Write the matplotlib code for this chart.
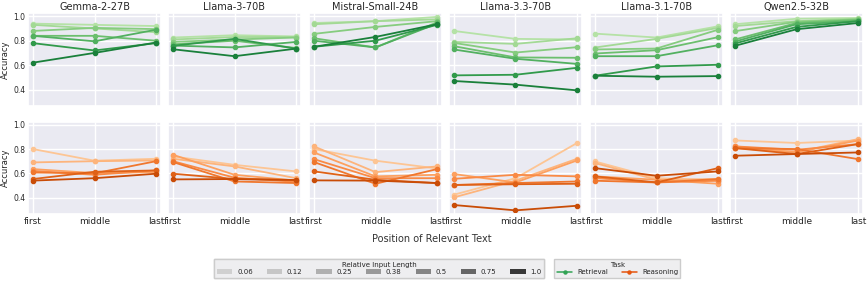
import matplotlib
matplotlib.use("Agg")
import matplotlib.pyplot as plt
import seaborn as sns
import numpy as np
from matplotlib.lines import Line2D
from matplotlib.patches import Patch

sns.set_theme(style="darkgrid")
plt.rcParams['font.family'] = ['DejaVu Sans']

models = ["Gemma-2-27B", "Llama-3-70B", "Mistral-Small-24B", "Llama-3.3-70B", "Llama-3.1-70B", "Qwen2.5-32B"]
positions = ["first", "middle", "last"]
lengths = ["0.06", "0.12", "0.25", "0.38", "0.5", "0.75", "1.0"]

# Retrieval accuracy: model -> list over lengths of [first, middle, last]
retrieval = {
    "Gemma-2-27B": [[0.94, 0.93, 0.92], [0.93, 0.90, 0.87], [0.88, 0.905, 0.895], [0.84, 0.84, 0.80],
                    [0.84, 0.795, 0.89], [0.78, 0.72, 0.78], [0.62, 0.70, 0.785]],
    "Llama-3-70B": [[0.826, 0.845, 0.835], [0.81, 0.83, 0.83], [0.79, 0.81, 0.826], [0.77, 0.80, 0.74],
                    [0.76, 0.745, 0.79], [0.758, 0.815, 0.735], [0.73, 0.673, 0.735]],
    "Mistral-Small-24B": [[0.945, 0.96, 0.995], [0.935, 0.96, 0.975], [0.856, 0.913, 0.96], [0.82, 0.745, 0.95],
                          [0.80, 0.745, 0.94], [0.75, 0.80, 0.93], [0.75, 0.831, 0.935]],
    "Llama-3.3-70B": [[0.88, 0.815, 0.81], [0.79, 0.774, 0.82], [0.782, 0.703, 0.747], [0.755, 0.663, 0.66],
                      [0.728, 0.652, 0.61], [0.516, 0.521, 0.578], [0.47, 0.44, 0.393]],
    "Llama-3.1-70B": [[0.858, 0.826, 0.918], [0.744, 0.815, 0.905], [0.728, 0.736, 0.89], [0.695, 0.722, 0.829],
                      [0.673, 0.673, 0.763], [0.513, 0.589, 0.603], [0.513, 0.505, 0.51]],
    "Qwen2.5-32B": [[0.935, 0.98, 0.986], [0.92, 0.96, 0.98], [0.878, 0.955, 0.975], [0.81, 0.945, 0.97],
                    [0.793, 0.935, 0.96], [0.777, 0.913, 0.96], [0.758, 0.894, 0.945]],
}

reasoning = {
    "Gemma-2-27B": [[0.80, 0.704, 0.72], [0.69, 0.70, 0.706], [0.635, 0.602, 0.61], [0.62, 0.588, 0.624],
                    [0.607, 0.60, 0.70], [0.553, 0.613, 0.624], [0.54, 0.56, 0.597]],
    "Llama-3-70B": [[0.739, 0.67, 0.616], [0.72, 0.657, 0.56], [0.753, 0.588, 0.54], [0.70, 0.564, 0.53],
                    [0.693, 0.533, 0.52], [0.597, 0.553, 0.545], [0.55, 0.553, 0.545]],
    "Mistral-Small-24B": [[0.80, 0.704, 0.64], [0.822, 0.61, 0.657], [0.772, 0.575, 0.588], [0.717, 0.56, 0.56],
                          [0.693, 0.514, 0.635], [0.616, 0.547, 0.52], [0.542, 0.54, 0.52]],
    "Llama-3.3-70B": [[0.424, 0.56, 0.85], [0.402, 0.54, 0.72], [0.594, 0.525, 0.706], [0.555, 0.588, 0.575],
                      [0.504, 0.52, 0.533], [0.504, 0.51, 0.514], [0.339, 0.295, 0.333]],
    "Llama-3.1-70B": [[0.698, 0.561, 0.539], [0.685, 0.547, 0.553], [0.575, 0.547, 0.514], [0.561, 0.525, 0.539],
                      [0.539, 0.525, 0.553], [0.575, 0.525, 0.643], [0.643, 0.58, 0.616]],
    "Qwen2.5-32B": [[0.871, 0.85, 0.87], [0.822, 0.775, 0.882], [0.808, 0.775, 0.87], [0.822, 0.794, 0.841],
                    [0.808, 0.80, 0.717], [0.808, 0.759, 0.841], [0.745, 0.759, 0.772]],
}

greens = ["#b5e2a6", "#a3d995", "#86cc7f", "#6cbf6e", "#52b060", "#319a4b", "#1a803b"]
oranges = ["#fdc594", "#fdb47c", "#fda05f", "#f98a45", "#f0772e", "#df6117", "#c94c07"]
legend_grays = ["#d0d0d0", "#c6c6c6", "#b0b0b0", "#999999", "#858585", "#666666", "#383838"]

W, H = 868, 281
fig = plt.figure(figsize=(W / 100, H / 100), dpi=100)

lefts = [28, 168, 309, 449, 590, 730]
pw = 133
rows = [(13, 106), (121.5, 214)]

x = np.arange(3)
for r, (data, cols) in enumerate([(retrieval, greens), (reasoning, oranges)]):
    top, bot = rows[r]
    for c, m in enumerate(models):
        ax = fig.add_axes([lefts[c] / W, 1 - bot / H, pw / W, (bot - top) / H])
        for i, vals in enumerate(data[m]):
            ax.plot(x, vals, color=cols[i], marker="o", markersize=3.0, linewidth=1.3)
        ax.set_xlim(-0.08, 2.08)
        ax.set_ylim(0.265, 1.027)
        ax.set_yticks([0.4, 0.6, 0.8, 1.0])
        ax.set_xticks(x)
        ax.grid(True, color="white", linewidth=1.0)
        ax.tick_params(axis="both", length=0, pad=2)
        if r == 0:
            ax.set_title(m, fontsize=7, pad=2.5)
            ax.set_xticklabels([])
        else:
            ax.set_xticklabels(positions, fontsize=6.5)
        if c == 0:
            ax.set_yticklabels(["0.4", "0.6", "0.8", "1.0"], fontsize=5.5)
            ax.set_ylabel("Accuracy", fontsize=6, labelpad=2)
        else:
            ax.set_yticklabels([])

fig.text(432 / W, 1 - 239 / H, "Position of Relevant Text", ha="center", va="center", fontsize=7, color="#333333")

handles1 = [Patch(facecolor=g, edgecolor="none") for g in legend_grays]
leg1 = fig.legend(handles1, lengths, title="Relative Input Length", ncol=7, loc="upper left",
                  bbox_to_anchor=(211 / W, 1 - 256 / H), fontsize=5, title_fontsize=5,
                  handlelength=2.2, handleheight=0.7, columnspacing=2.0, handletextpad=0.7,
                  borderpad=0.35, labelspacing=0.2, frameon=True, facecolor="#eeeef0",
                  edgecolor="#cccccc", framealpha=1.0, fancybox=False)
fig.add_artist(leg1)
handles2 = [Line2D([0], [0], color="#31a354", marker="o", markersize=2.2, linewidth=1.1),
            Line2D([0], [0], color="#e6550d", marker="o", markersize=2.2, linewidth=1.1)]
fig.legend(handles2, ["Retrieval", "Reasoning"], title="Task", ncol=2, loc="upper left",
           bbox_to_anchor=(551 / W, 1 - 256 / H), fontsize=5, title_fontsize=5,
           handlelength=2.2, columnspacing=2.0, handletextpad=0.7,
           borderpad=0.35, labelspacing=0.2, frameon=True, facecolor="#eeeef0",
           edgecolor="#cccccc", framealpha=1.0, fancybox=False)

fig.savefig("out.png", dpi=100)
